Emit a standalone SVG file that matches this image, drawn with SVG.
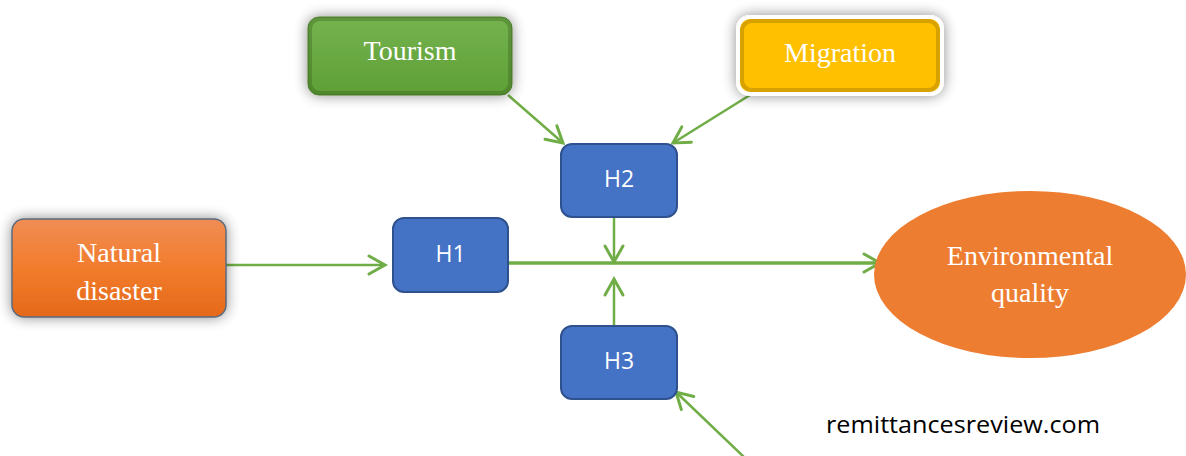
<svg xmlns="http://www.w3.org/2000/svg" width="1186" height="456" viewBox="0 0 1186 456">
<defs>
<linearGradient id="gGreen" x1="0" y1="0" x2="0" y2="1"><stop offset="0" stop-color="#74b34e"/><stop offset="1" stop-color="#5f9f37"/></linearGradient>
<linearGradient id="gOrange" x1="0" y1="0" x2="0" y2="1"><stop offset="0" stop-color="#f08d55"/><stop offset="0.5" stop-color="#f27c2c"/><stop offset="1" stop-color="#e5691a"/></linearGradient>
<filter id="glow" x="-20%" y="-30%" width="140%" height="160%"><feGaussianBlur in="SourceAlpha" stdDeviation="7"/><feComponentTransfer><feFuncA type="linear" slope="0.45"/></feComponentTransfer><feMerge><feMergeNode/><feMergeNode in="SourceGraphic"/></feMerge></filter>
<marker id="arr" viewBox="-20 -12 24 24" markerWidth="24" markerHeight="24" refX="0" refY="0" orient="auto" markerUnits="userSpaceOnUse"><path d="M-16,-9 L0,0 L-16,9" fill="none" stroke="#70ad47" stroke-width="3" stroke-linecap="round" stroke-linejoin="miter"/></marker>
<style>
.hb{fill:#4472c4;stroke:#2f528f;stroke-width:2}
.ht{font-family:"Open Sans","Liberation Sans",sans-serif;font-size:23px;fill:#fff;text-anchor:middle}
.st{font-family:"Liberation Serif",serif;font-size:28px;fill:#fff;text-anchor:middle}
.c{fill:none;stroke:#70ad47;stroke-width:2.5}
.edge{fill:none;stroke-width:4;stroke-opacity:0.3}
</style>
</defs>
<g id="connectors">
<line class="c" x1="226" y1="265" x2="385" y2="265" marker-end="url(#arr)"/>
<line class="c" x1="508" y1="95" x2="563" y2="143" marker-end="url(#arr)"/>
<line class="c" x1="750" y1="95" x2="673" y2="143" marker-end="url(#arr)"/>
<line class="c" x1="614" y1="217" x2="614" y2="262" marker-end="url(#arr)"/>
<line class="c" x1="614" y1="326" x2="614" y2="279" marker-end="url(#arr)"/>
<line class="c" style="stroke-width:3.5" x1="508" y1="263" x2="880" y2="263" marker-end="url(#arr)"/>
<line class="c" x1="745" y1="458" x2="676" y2="392" marker-end="url(#arr)"/>
</g>
<g id="tourism">
<rect x="308" y="17" width="204" height="78" rx="11" fill="url(#gGreen)" stroke="#4e7f2e" stroke-width="1" filter="url(#glow)"/>
<rect class="edge" x="310" y="19" width="200" height="74" rx="10" stroke="#2f5418"/>
<text class="st" x="410" y="60">Tourism</text>
</g>
<g id="migration">
<rect x="738" y="17" width="204" height="77" rx="12" fill="#ffc000" stroke="#fff" stroke-width="4" filter="url(#glow)"/>
<rect class="edge" x="742" y="21" width="196" height="69" rx="10" stroke="#7a5a00"/>
<text class="st" x="840" y="62">Migration</text>
</g>
<g id="natural-disaster">
<rect x="12" y="219" width="214" height="98" rx="12" fill="url(#gOrange)" stroke="#5a6a7f" stroke-width="1.5" filter="url(#glow)"/>
<text class="st" x="119" y="262">Natural</text>
<text class="st" x="119" y="300">disaster</text>
</g>
<g id="h1">
<rect class="hb" x="393" y="218" width="115" height="74" rx="11"/>
<text class="ht" x="450.5" y="262">H1</text>
</g>
<g id="h2">
<rect class="hb" x="561" y="144" width="116" height="73" rx="11"/>
<text class="ht" x="619" y="187">H2</text>
</g>
<g id="h3">
<rect class="hb" x="561" y="326" width="116" height="73" rx="11"/>
<text class="ht" x="619" y="369">H3</text>
</g>
<g id="environmental-quality">
<ellipse cx="1030" cy="274.5" rx="156" ry="83.5" fill="#ed7d31"/>
<text class="st" x="1030" y="265">Environmental</text>
<text class="st" x="1030" y="302">quality</text>
</g>
<text x="826" y="433" font-family="Open Sans, Liberation Sans, sans-serif" font-size="24" fill="#000" textLength="274" lengthAdjust="spacingAndGlyphs">remittancesreview.com</text>
</svg>
